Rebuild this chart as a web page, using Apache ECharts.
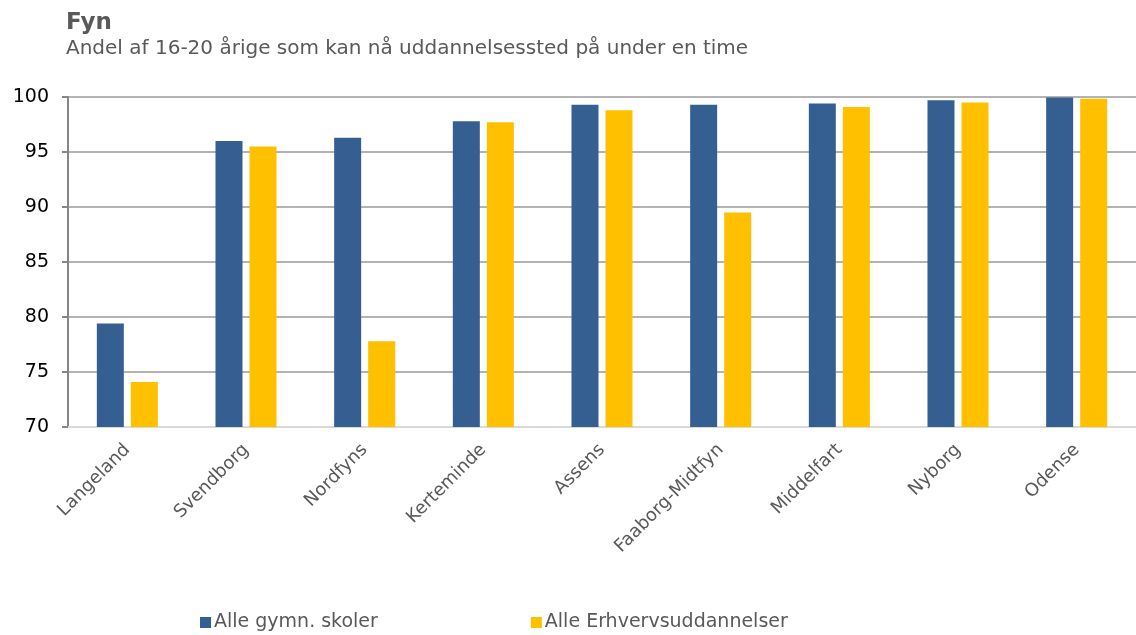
<!DOCTYPE html>
<html><head><meta charset="utf-8">
<script src="https://cdn.jsdelivr.net/npm/echarts@6/dist/echarts.min.js"></script>
<style>html,body{margin:0;padding:0;background:#fff}#c{width:1136px;height:635px}</style>
</head><body><div id="c"></div>
<script>
const categories = ["Langeland","Svendborg","Nordfyns","Kerteminde","Assens","Faaborg-Midtfyn","Middelfart","Nyborg","Odense"];
const gymn = [79.4, 96.0, 96.3, 97.8, 99.3, 99.3, 99.4, 99.7, 99.95];
const erhverv = [74.1, 95.5, 77.8, 97.7, 98.8, 89.5, 99.1, 99.5, 99.85];
const seriesNames = ["Alle gymn. skoler","Alle Erhvervsuddannelser"];
const font = "DejaVu Sans";
const chart = echarts.init(document.getElementById('c'));
chart.setOption({
  animation:false,
  textStyle:{fontFamily:font},
  title:{text:"Fyn",subtext:"Andel af 16-20 årige som kan nå uddannelsessted på under en time",left:61,top:7,itemGap:4,
    textStyle:{fontFamily:font,fontSize:23,fontWeight:'bold',color:'#595959'},
    subtextStyle:{fontFamily:font,fontSize:20,color:'#595959'}},
  legend:{bottom:-2,left:195,itemGap:153,itemWidth:11,itemHeight:11,icon:'rect',
    textStyle:{fontFamily:font,fontSize:19,color:'#595959',padding:[0,0,0,-2]},data:seriesNames},
  grid:{left:68,right:0,top:97,bottom:208,containLabel:false},
  xAxis:{type:'category',data:categories,
    axisLine:{lineStyle:{color:'#d9d9d9',width:2}},axisTick:{show:false},
    axisLabel:{rotate:45,fontSize:18,color:'#595959',margin:20,fontFamily:font}},
  yAxis:{type:'value',min:70,max:100,interval:5,
    axisLine:{show:true,lineStyle:{color:'#868686',width:2}},
    axisTick:{show:true,length:6,lineStyle:{color:'#868686',width:2}},
    axisLabel:{fontSize:19,color:'#000',margin:19,fontFamily:font},
    splitLine:{lineStyle:{color:'#9a9a9a',width:1.5}}},
  series:[
    {name:seriesNames[0],type:'bar',data:gymn,barWidth:27,barGap:'26%',itemStyle:{color:'#355F91'}},
    {name:seriesNames[1],type:'bar',data:erhverv,barWidth:27,itemStyle:{color:'#FFC000'}}
  ]
});
</script></body></html>
